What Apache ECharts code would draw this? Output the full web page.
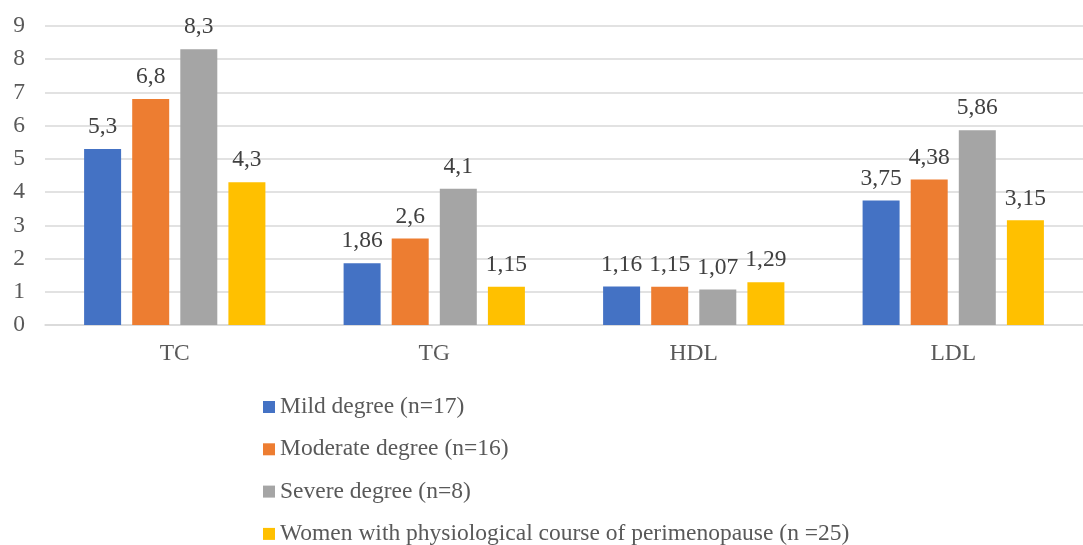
<!DOCTYPE html>
<html>
<head>
<meta charset="utf-8">
<script src="https://cdn.jsdelivr.net/npm/echarts@6/dist/echarts.min.js"></script>
<style>
  html, body { margin: 0; padding: 0; background: #fff; }
  #chart { width: 1083px; height: 545px; }
</style>
</head>
<body>
<div id="chart"></div>
<script>
var categories = ['TC', 'TG', 'HDL', 'LDL']
var seriesNames = [
  'Mild degree (n=17)',
  'Moderate degree (n=16)',
  'Severe degree (n=8)',
  'Women with physiological course of perimenopause (n =25)',
]
var mild = [5.3, 1.86, 1.16, 3.75]
var moderate = [6.8, 2.6, 1.15, 4.38]
var severe = [8.3, 4.1, 1.07, 5.86]
var women = [4.3, 1.15, 1.29, 3.15]
var colors = ['#4472C4', '#ED7D31', '#A5A5A5', '#FFC000']

var font = '"Liberation Serif", "Times New Roman", serif'
var chart = echarts.init(document.getElementById('chart'))

var dataSets = [mild, moderate, severe, women]
var series = dataSets.map(function (d, i) {
  return {
    name: seriesNames[i],
    type: 'bar',
    data: d,
    barWidth: 37,
    barGap: '30%',
    itemStyle: { color: colors[i] },
    label: {
      show: true,
      position: 'top',
      distance: 10,
      color: '#404040',
      fontFamily: font,
      fontSize: 23.5,
      formatter: function (p) {
        return String(p.value).replace('.', ',')
      },
    },
  }
})

chart.setOption({
  animation: false,
  color: colors,
  grid: { left: 45, right: -10, top: 26, bottom: 220 },
  legend: {
    orient: 'vertical',
    left: 258,
    top: 390,
    height: 160,
    itemWidth: 12,
    itemHeight: 12,
    itemGap: 18.3,
    icon: 'rect',
    textStyle: { color: '#595959', fontFamily: font, fontSize: 23.5 },
    data: seriesNames,
  },
  xAxis: {
    type: 'category',
    data: categories,
    axisLine: { lineStyle: { color: '#D9D9D9', width: 1.5 } },
    axisTick: { show: false },
    axisLabel: { color: '#595959', fontFamily: font, fontSize: 23.5, margin: 17 },
  },
  yAxis: {
    type: 'value',
    min: 0,
    max: 9,
    interval: 1,
    axisLine: { show: false },
    axisTick: { show: false },
    splitLine: { lineStyle: { color: '#D9D9D9', width: 1.5 } },
    axisLabel: { color: '#595959', fontFamily: font, fontSize: 23.5, margin: 20 },
  },
  series: series,
})
</script>
</body>
</html>
